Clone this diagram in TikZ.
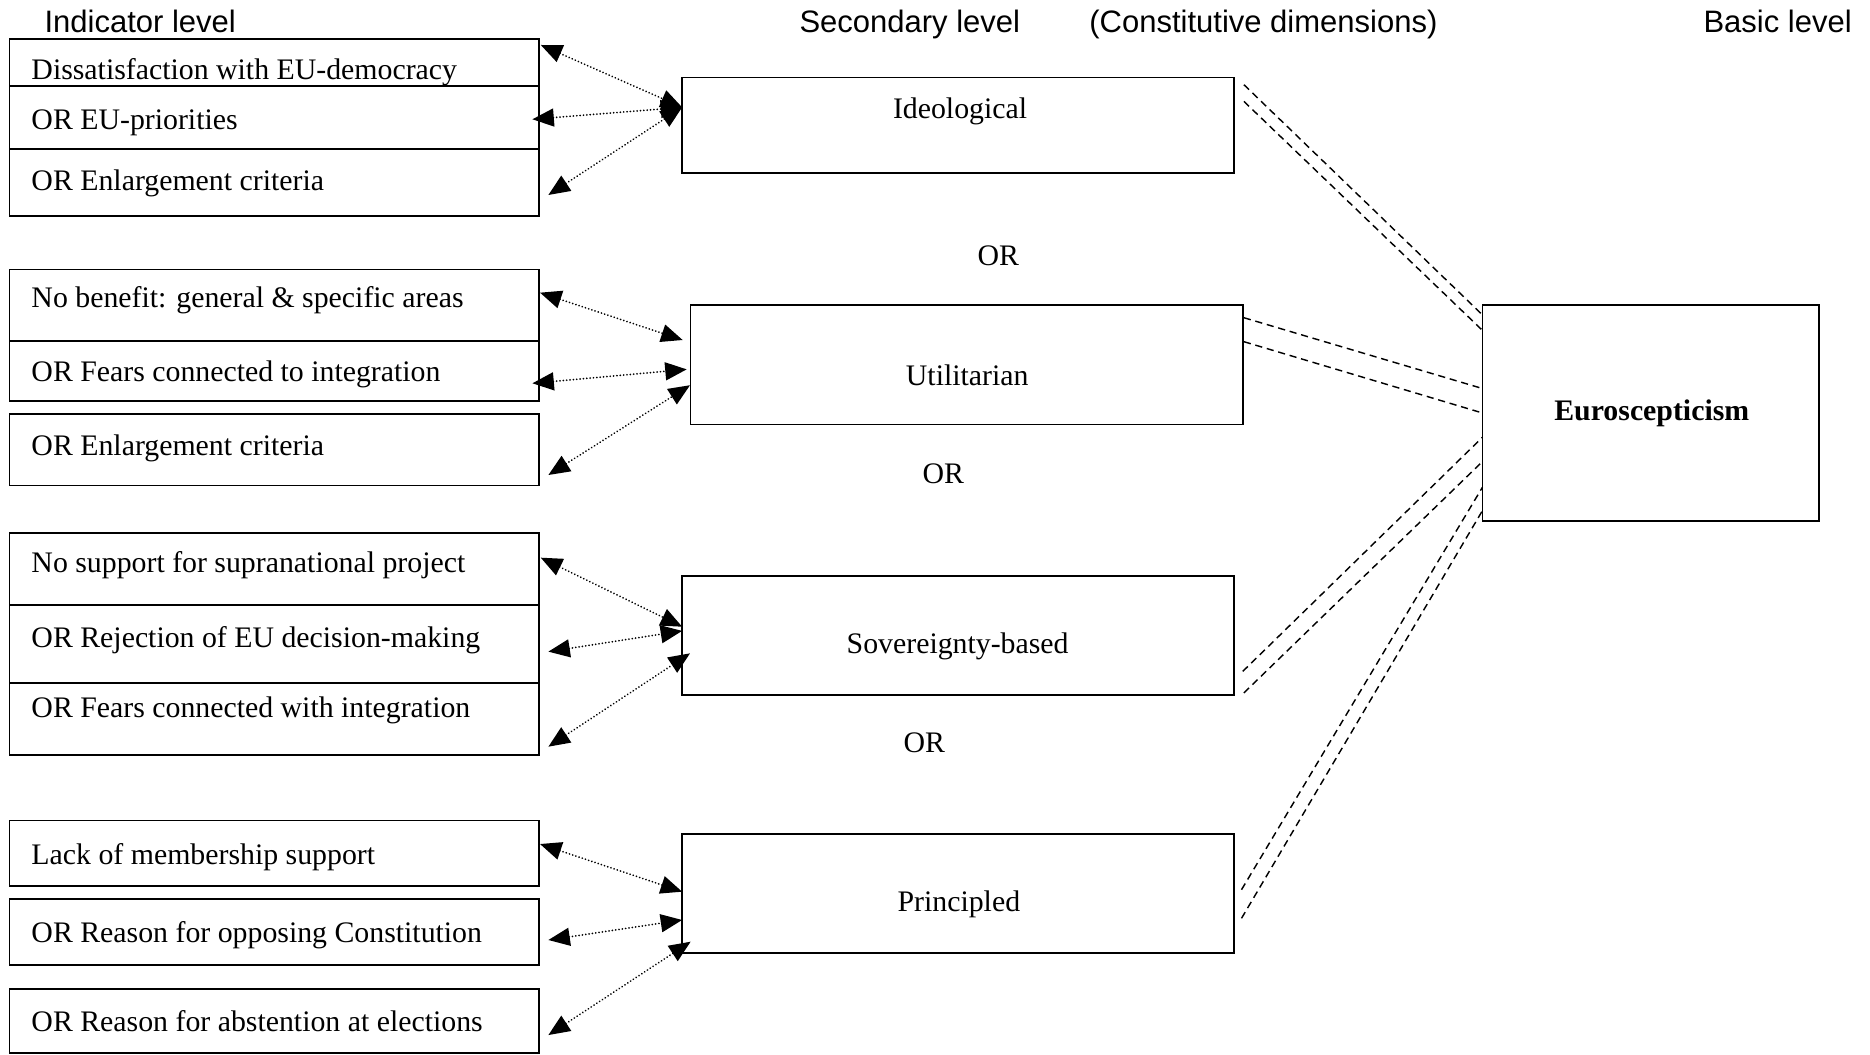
\documentclass[tikz,border=0pt]{standalone}
\usepackage{fontspec}
\setmainfont{Liberation Serif}
\newfontfamily\hdfont{Liberation Sans}
\usetikzlibrary{arrows.meta,calc}
\tikzset{
  lbox/.style={draw, line width=0.75pt, minimum width=222pt, inner sep=0pt, outer sep=0pt},
  mbox/.style={draw, line width=0.75pt, inner sep=0pt, outer sep=0pt},
  ltext/.style={inner sep=0pt, font=\fontsize{12.5}{15}\selectfont, text height=11.5pt, text depth=2.5pt},
  mtext/.style={ltext, anchor=center},
  htext/.style={inner sep=0pt, anchor=base west, font=\hdfont\fontsize{13}{15}\selectfont},
  darr/.style={{Triangle[length=9pt,width=7.5pt]}-{Triangle[length=9pt,width=7.5pt]},
    line width=0.8pt, line cap=round, dash pattern=on 0.01pt off 1.4pt},
  dsh/.style={line width=0.6pt, dash pattern=on 3pt off 2pt}
}
\newcommand\leftbox[5]{%
  \node[lbox, minimum height={(#3-#2)*0.5pt}] (#1) at (230,{(#2+#3)/2}) {};
  \node[ltext, anchor=west] (#1t) at (26,#4) {#5};
}
\begin{document}
\begin{tikzpicture}[x=0.5pt, y=-0.5pt]
\useasboundingbox (0,0) rectangle (1568,884);

% headers
\node[htext] (h1) at (37,27) {Indicator level};
\node[htext] (h2) at (670,27) {Secondary level};
\node[htext] (h3) at (913,27) {(Constitutive dimensions)};
\node[htext] (h4) at (1428,27) {Basic level};

% indicator boxes
\leftbox{L1a}{33}{72}{58}{Dissatisfaction with EU-democracy}
\leftbox{L1b}{72}{125}{100}{OR EU-priorities}
\leftbox{L1c}{125}{181}{151}{OR Enlargement criteria}
\leftbox{L2a}{226}{286}{249}{No benefit: general \& specific areas}
\leftbox{L2b}{286}{336}{311}{OR Fears connected to integration}
\leftbox{L2c}{347}{407}{373}{OR Enlargement criteria}
\leftbox{L3a}{447}{507}{471}{No support for supranational project}
\leftbox{L3b}{507}{573}{534}{OR Rejection of EU decision-making}
\leftbox{L3c}{573}{633}{593}{OR Fears connected with integration}
\leftbox{L4a}{688}{743}{716}{Lack of membership support}
\leftbox{L4b}{754}{809}{781}{OR Reason for opposing Constitution}
\leftbox{L4c}{829}{883}{856}{OR Reason for abstention at elections}

% secondary boxes
\node[mbox, minimum width=231.5pt, minimum height=40pt] (M1) at (803.5,105) {};
\node[mbox, minimum width=231.5pt, minimum height=50pt] (M2) at (810.5,306) {};
\node[mbox, minimum width=231.5pt, minimum height=50pt] (M3) at (803.5,533) {};
\node[mbox, minimum width=231.5pt, minimum height=50pt] (M4) at (803.5,749) {};
\node[mtext] (M1t) at (805,90) {Ideological};
\node[mtext] (M2t) at (811,314) {Utilitarian};
\node[mtext] (M3t) at (803,539) {Sovereignty-based};
\node[mtext] (M4t) at (804,755) {Principled};

% OR labels
\node[mtext] (or1) at (837,214) {OR};
\node[mtext] (or2) at (791,396) {OR};
\node[mtext] (or3) at (775,622) {OR};

% basic level
\node[mbox, minimum width=141pt, minimum height=90.5pt] (E) at (1384,346.5) {};
\node[mtext, font=\fontsize{12.5}{15}\selectfont\bfseries] (Et) at (1385,344) {Euroscepticism};

% dotted double arrows
\draw[darr] ($(L1a.north east)+(1.4,4.7)$) -- ($(M1.north west)+(0,25)$);
\draw[darr] ($(L1b.east)+(-5.6,1.5)$) -- ($(M1.north west)+(0,25)$);
\draw[darr] ($(L1c.east)+(7.8,10.5)$) -- ($(M1.north west)+(0,25)$);

\draw[darr] ($(L2a.north east)+(0.8,19.4)$) -- ($(M2.north west)+(-6.6,29.1)$);
\draw[darr] ($(L2b.east)+(-5.6,10.4)$) -- ($(M2.north west)+(-3.2,53.7)$);
\draw[darr] ($(L2c.east)+(7.8,21.3)$) -- ($(M2.north west)+(-0.4,67)$);

\draw[darr] ($(L3a.north east)+(1.4,20.6)$) -- ($(M3.north west)+(0,42.5)$);
\draw[darr] ($(L3b.east)+(7.8,6.4)$) -- ($(M3.north west)+(0,46)$);
\draw[darr] ($(L3c.east)+(7.8,23.1)$) -- ($(M3.north west)+(6.6,64.8)$);

\draw[darr] ($(L4a.north east)+(0.8,19.7)$) -- ($(M4.north west)+(0,48.7)$);
\draw[darr] ($(L4b.east)+(7.8,6.7)$) -- ($(M4.north west)+(0,72.4)$);
\draw[darr] ($(L4c.east)+(7.8,11.9)$) -- ($(M4.north west)+(7.1,90.6)$);

% dashed double links
\draw[dsh] ($(M1.north east)+(8,6)$) -- ($(E.north west)+(0,8)$);
\draw[dsh] ($(M1.north east)+(8,20)$) -- ($(E.north west)+(0,21)$);
\draw[dsh] ($(M2.north east)+(1,10.4)$) -- ($(E.north west)+(-2.6,69)$);
\draw[dsh] ($(M2.north east)+(1,30.5)$) -- ($(E.north west)+(-2.6,89.5)$);
\draw[dsh] ($(M3.south east)+(7,-20)$) -- ($(E.north west)+(0,110.7)$);
\draw[dsh] ($(M3.south east)+(8,-2)$) -- ($(E.north west)+(0,131)$);
\draw[dsh] ($(M4.north east)+(6,47)$) -- ($(E.north west)+(0,152.6)$);
\draw[dsh] ($(M4.north east)+(6,71)$) -- ($(E.north west)+(0,172.2)$);
\end{tikzpicture}
\end{document}
